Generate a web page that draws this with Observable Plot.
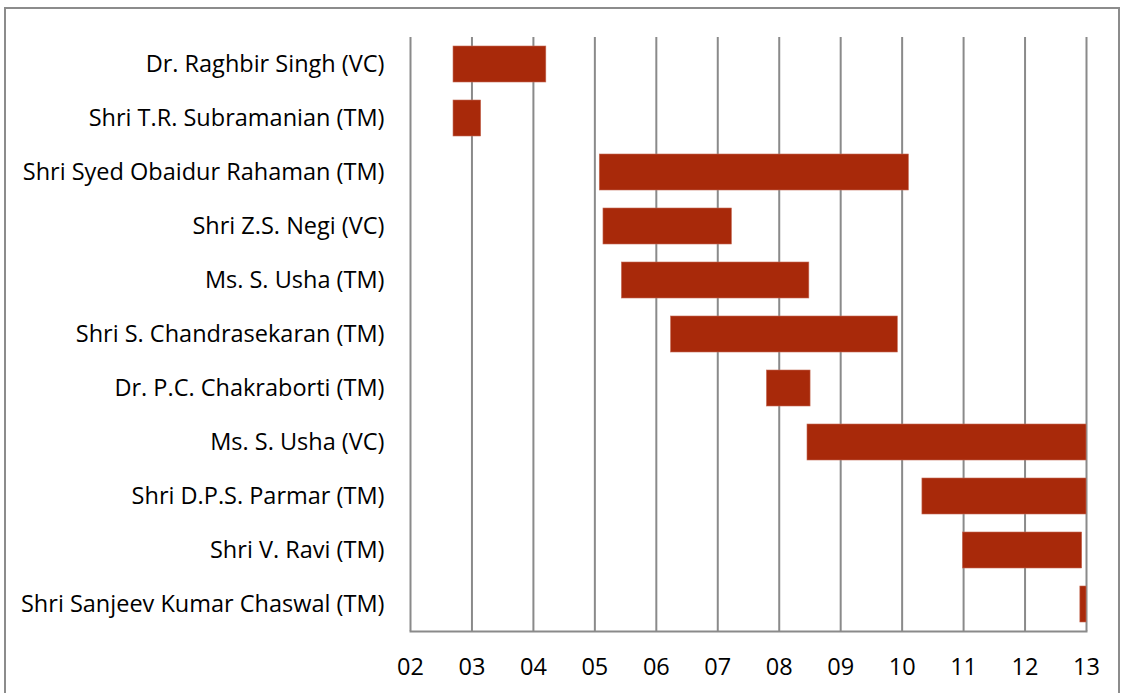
<!DOCTYPE html>
<html>
<head>
<meta charset="utf-8">
<script src="https://cdn.jsdelivr.net/npm/d3@7"></script>
<script src="https://cdn.jsdelivr.net/npm/@observablehq/plot@0.6"></script>
<style>
  html, body { margin: 0; padding: 0; background: #fff; }
  #wrap { position: relative; width: 1121px; height: 693px; overflow: hidden; }
  #border { position: absolute; left: 4px; top: 7px; width: 1116px; height: 720px; border: 2px solid #8c8c8c; box-sizing: border-box; }
  #chart { position: absolute; left: 0; top: 0; }
</style>
</head>
<body>
<div id="wrap"><div id="border"></div><div id="chart"></div></div>
<script>
const names = [
  "Dr. Raghbir Singh (VC)",
  "Shri T.R. Subramanian (TM)",
  "Shri Syed Obaidur Rahaman (TM)",
  "Shri Z.S. Negi (VC)",
  "Ms. S. Usha (TM)",
  "Shri S. Chandrasekaran (TM)",
  "Dr. P.C. Chakraborti (TM)",
  "Ms. S. Usha (VC)",
  "Shri D.P.S. Parmar (TM)",
  "Shri V. Ravi (TM)",
  "Shri Sanjeev Kumar Chaswal (TM)"
];
const starts = [2.70, 2.70, 5.08, 5.14, 5.44, 6.24, 7.80, 8.46, 10.33, 10.99, 12.90];
const ends   = [4.21, 3.15, 10.11, 7.23, 8.49, 9.93, 8.51, 13.00, 13.00, 12.93, 13.00];
const xTicks = [2, 3, 4, 5, 6, 7, 8, 9, 10, 11, 12, 13];

const rows = names.map((n, i) => ({name: n, start: starts[i], end: ends[i]}));

const chart = Plot.plot({
  width: 1121,
  height: 693,
  marginLeft: 410,
  marginRight: 35,
  marginTop: 37,
  marginBottom: 62,
  style: {fontFamily: "'Open Sans', sans-serif", fontSize: "23.5px", color: "#000", background: "transparent"},
  x: {domain: [2, 13], ticks: xTicks, tickFormat: d3.format("02d"), label: null},
  y: {domain: names, paddingInner: 1 / 3, paddingOuter: 1 / 6, round: false, label: null},
  marks: [
    Plot.ruleX(xTicks, {stroke: "#8a8a8a", strokeWidth: 2}),
    Plot.frame({anchor: "bottom", stroke: "#8a8a8a", strokeWidth: 2}),
    Plot.barX(rows, {y: "name", x1: "start", x2: "end", fill: "#a8290a", stroke: "#c46a55", strokeWidth: 0.6}),
    Plot.axisY({tickSize: 0, tickPadding: 26, fontSize: 23.5, label: null}),
    Plot.axisX({tickSize: 0, tickPadding: 27, fontSize: 23.5, label: null, ticks: xTicks, tickFormat: d3.format("02d")})
  ]
});
document.getElementById("chart").appendChild(chart);
</script>
</body>
</html>
